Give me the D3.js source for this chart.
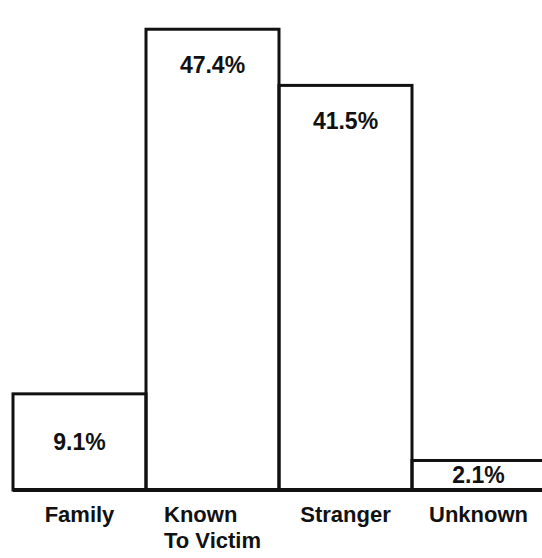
<!DOCTYPE html>
<html>
<head>
<meta charset="utf-8">
<script src="https://cdn.jsdelivr.net/npm/d3@7"></script>
<style>
  body { margin: 0; background: #fff; }
  svg text { font-family: "Liberation Sans", Arial, Helvetica, sans-serif; font-weight: bold; fill: #111; }
</style>
</head>
<body>
<script>
const categories = ["Family", "Known|To Victim", "Stranger", "Unknown"];
const percents = [9.1, 47.4, 41.5, 2.1];
const valueLabels = ["9.1%", "47.4%", "41.5%", "2.1%"];

const w = 542;
const h = 558;
const baseY = 490;

const svg = d3.select("body")
  .append("svg")
  .attr("width", w)
  .attr("height", h);

const xScale = d3.scaleBand()
  .domain(categories)
  .range([13, 545])
  .padding(0);

// the printed bars are not quite proportional, so the domain is fitted a bit
const yScale = d3.scaleLinear()
  .domain([-1, 49])
  .range([baseY, 14]);

const data = categories.map((c, i) => ({ cat: c, value: percents[i], label: valueLabels[i] }));

svg.selectAll("rect.bar")
  .data(data)
  .enter()
  .append("rect")
  .attr("class", "bar")
  .attr("x", d => xScale(d.cat))
  .attr("y", d => yScale(d.value))
  .attr("width", xScale.bandwidth())
  .attr("height", d => baseY - yScale(d.value))
  .attr("fill", "none")
  .attr("stroke", "#111")
  .attr("stroke-width", 3);

// base line
svg.append("line")
  .attr("x1", xScale.range()[0])
  .attr("x2", w)
  .attr("y1", baseY)
  .attr("y2", baseY)
  .attr("stroke", "#111")
  .attr("stroke-width", 4);

// values inside the bars
svg.selectAll("text.value")
  .data(data)
  .enter()
  .append("text")
  .attr("class", "value")
  .attr("x", d => xScale(d.cat) + xScale.bandwidth() / 2)
  .attr("y", d => {
    const top = yScale(d.value);
    const bh = baseY - top;
    return bh < 120 ? top + bh / 2 + 8 : top + 44;
  })
  .attr("text-anchor", "middle")
  .attr("font-size", 23)
  .text(d => d.label);

// category names, multi line ones are left aligned
const catText = svg.selectAll("text.cat")
  .data(data)
  .enter()
  .append("text")
  .attr("class", "cat")
  .attr("font-size", 22)
  .attr("y", 522);

catText.each(function (d) {
  const t = d3.select(this);
  const lines = d.cat.split("|");
  lines.forEach((l, i) => {
    t.append("tspan")
      .attr("dy", i === 0 ? 0 : 26)
      .text(l);
  });
  const cx = xScale(d.cat) + xScale.bandwidth() / 2;
  if (lines.length === 1) {
    t.attr("text-anchor", "middle");
    t.selectAll("tspan").attr("x", cx);
  } else {
    let maxW = 0;
    t.selectAll("tspan").each(function () {
      maxW = Math.max(maxW, this.getComputedTextLength());
    });
    t.attr("text-anchor", "start");
    t.selectAll("tspan").attr("x", cx - maxW / 2);
  }
});
</script>
</body>
</html>
